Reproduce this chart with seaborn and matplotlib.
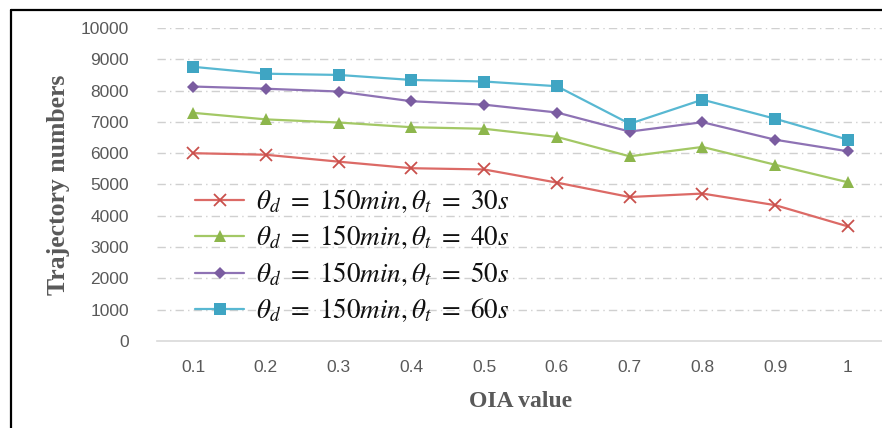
import matplotlib
matplotlib.use("Agg")
import matplotlib.pyplot as plt
import seaborn as sns
import pandas as pd
from matplotlib.lines import Line2D

oia = ["0.1", "0.2", "0.3", "0.4", "0.5", "0.6", "0.7", "0.8", "0.9", "1"]
s30 = [6000, 5950, 5730, 5520, 5480, 5060, 4600, 4710, 4340, 3660]
s40 = [7290, 7080, 6980, 6830, 6780, 6520, 5900, 6200, 5630, 5070]
s50 = [8130, 8060, 7970, 7660, 7550, 7300, 6690, 6990, 6430, 6060]
s60 = [8760, 8540, 8500, 8340, 8290, 8140, 6940, 7710, 7100, 6430]
labels = [r"$\theta_d\ =\ 150min,\theta_t\ =\ 30s$",
          r"$\theta_d\ =\ 150min,\theta_t\ =\ 40s$",
          r"$\theta_d\ =\ 150min,\theta_t\ =\ 50s$",
          r"$\theta_d\ =\ 150min,\theta_t\ =\ 60s$"]
yticks = [0, 1000, 2000, 3000, 4000, 5000, 6000, 7000, 8000, 9000, 10000]

sns.set_theme(style="white")
plt.rcParams["font.family"] = ["Liberation Sans", "DejaVu Sans"]
plt.rcParams["mathtext.fontset"] = "stix"

fig = plt.figure(figsize=(8.82, 4.28), dpi=100)
ax = fig.add_axes([0.1776, 0.2033, 0.8251, 0.7313])

series = [s30, s40, s50, s60]
line_colors = ["#DC6A66", "#A3C865", "#8E72B4", "#58B8D2"]
marker_colors = ["#C9504C", "#8DB64C", "#7A5CA0", "#3FA5C3"]
markers = ["x", "^", "D", "s"]
msizes = [9, 8, 6.5, 8]

pos = list(range(len(oia)))
for vals, lab, lc, mc, mk, ms in zip(series, labels, line_colors, marker_colors, markers, msizes):
    df = pd.DataFrame({"x": pos, "y": vals})
    kw = dict(markeredgecolor=mc, markerfacecolor=mc)
    if mk == "x":
        kw["markeredgewidth"] = 1.3
    else:
        kw["markeredgewidth"] = 0
    sns.lineplot(data=df, x="x", y="y", ax=ax, color=lc, linewidth=1.6,
                 marker=mk, markersize=ms, label=lab, **kw)

ax.set_xlim(-0.5, 9.5)
ax.set_ylim(0, 10000)
ax.set_yticks(yticks)
ax.set_yticklabels([str(v) for v in yticks])
ax.set_xticks(pos)
ax.set_xticklabels(oia)
ax.tick_params(axis="both", colors="#595959", labelsize=12.5, length=0)
ax.tick_params(axis="x", pad=14)
ax.tick_params(axis="y", pad=20)
for t in ax.get_yticklabels():
    t.set_color("#595959")
for t in ax.get_xticklabels():
    t.set_color("#595959")

for v in yticks[1:]:
    ax.axhline(v, color="#D0D0D0", linewidth=1.0, linestyle=(0, (6, 3, 1, 3)), zorder=0)
for sp in ["top", "right", "left"]:
    ax.spines[sp].set_visible(False)
ax.spines["bottom"].set_color("#D9D9D9")
ax.spines["bottom"].set_linewidth(1.2)

ax.set_xlabel("OIA value", fontfamily="Liberation Serif", fontweight="bold",
              fontsize=17, color="#595959", labelpad=11)
ax.set_ylabel("Trajectory numbers", fontfamily="Liberation Serif", fontweight="bold",
              fontsize=18.5, color="#595959", labelpad=8)

leg = ax.legend(loc="upper left", bbox_to_anchor=(0.038, 0.526), frameon=False,
                fontsize=19.5, handlelength=1.8, handletextpad=0.45, labelspacing=0.32,
                borderaxespad=0)
for t in leg.get_texts():
    t.set_color("#111111")

# outer frame (left and top)
fig.add_artist(Line2D([10.5 / 882, 10.5 / 882], [0, 1 - 9.5 / 428], transform=fig.transFigure,
                      color="black", linewidth=1.6))
fig.add_artist(Line2D([10.5 / 882, 1], [1 - 9.5 / 428, 1 - 9.5 / 428], transform=fig.transFigure,
                      color="black", linewidth=1.6))

fig.savefig("out.png", dpi=100)
